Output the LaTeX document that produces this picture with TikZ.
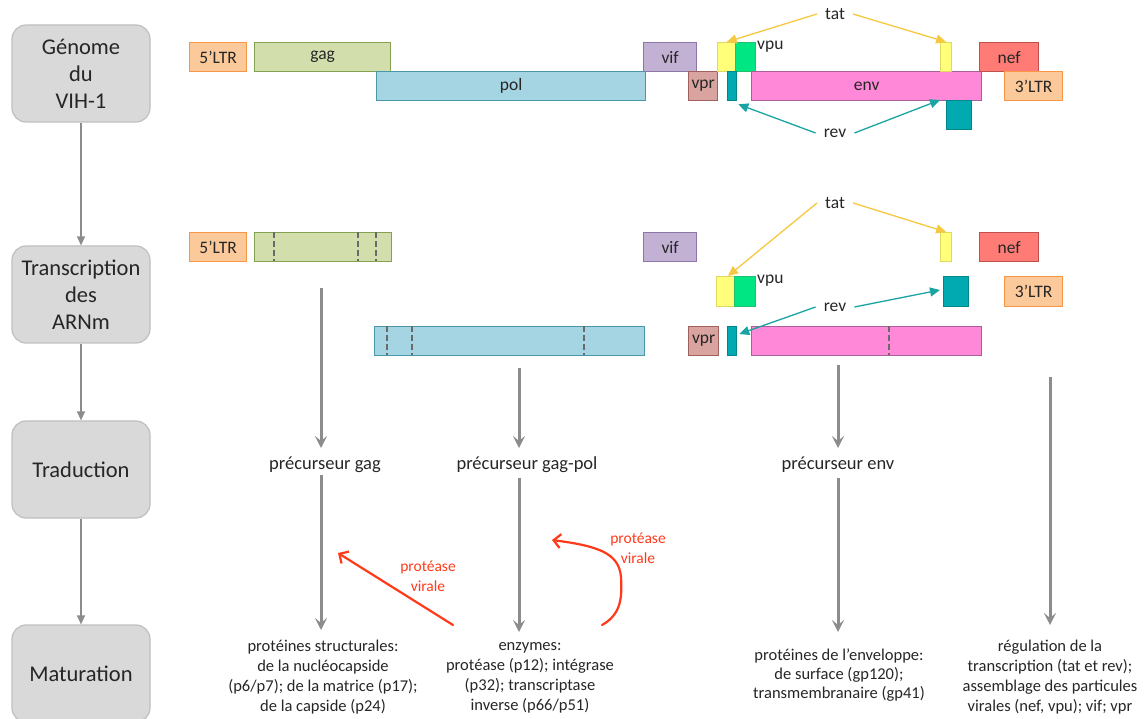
\documentclass[tikz,border=0pt]{standalone}
\usepackage{fontspec}
\setmainfont{Carlito}
\usetikzlibrary{arrows.meta}
\definecolor{stagefill}{HTML}{D9D9D9}
\definecolor{stageborder}{HTML}{BFBFBF}
\definecolor{ltrfill}{HTML}{FBC99A}
\definecolor{ltrdraw}{HTML}{F79646}
\definecolor{gagfill}{HTML}{D2DFAD}
\definecolor{gagdraw}{HTML}{86A052}
\definecolor{polfill}{HTML}{A5D5E2}
\definecolor{poldraw}{HTML}{4A97AA}
\definecolor{viffill}{HTML}{C3B1D4}
\definecolor{vifdraw}{HTML}{8C76A8}
\definecolor{vprfill}{HTML}{D9A3A0}
\definecolor{vprdraw}{HTML}{A0605E}
\definecolor{tatfill}{HTML}{FFFF7A}
\definecolor{tatdraw}{HTML}{E0D860}
\definecolor{vpufill}{HTML}{00E682}
\definecolor{vpudraw}{HTML}{20C070}
\definecolor{revfill}{HTML}{00AAB0}
\definecolor{revdraw}{HTML}{00878C}
\definecolor{envfill}{HTML}{FF88D8}
\definecolor{envdraw}{HTML}{A8609A}
\definecolor{neffill}{HTML}{FF7B75}
\definecolor{nefdraw}{HTML}{C0504D}
\definecolor{grayarrow}{HTML}{8C8C8C}
\definecolor{tatarrow}{HTML}{F5C840}
\definecolor{revarrow}{HTML}{1AA3A3}
\definecolor{redarrow}{HTML}{FF3A1A}
\definecolor{dashgray}{HTML}{6A6A6A}
\tikzset{
  stage/.style={draw=stageborder, fill=stagefill, rounded corners=14pt, line width=1.2pt,
    minimum width=138pt, minimum height=97pt, align=center, inner sep=0pt,
    font=\fontsize{22.5}{27}\selectfont, text=black!85},
  gene/.style={line width=1.3pt, inner sep=0pt, anchor=north west, font=\fontsize{17.5}{18}\selectfont, text=black!85},
  lbl/.style={font=\fontsize{17.5}{18}\selectfont, text=black!85, inner sep=2pt},
  plbl/.style={font=\fontsize{18.5}{19}\selectfont, text=black!85, inner sep=2pt},
  res/.style={font=\fontsize{16.5}{20}\selectfont, align=center, text=black!85, inner sep=0pt},
  redlbl/.style={font=\fontsize{15.5}{20}\selectfont, align=center, text=redarrow, inner sep=0pt},
  stagelink/.style={draw=grayarrow, line width=1.3pt, -{Triangle[length=9pt,width=8pt]}},
  bigarrow/.style={draw=grayarrow, line width=3pt, -{Stealth[length=12pt,width=12pt,inset=5pt]}},
  tatlink/.style={draw=tatarrow, line width=1.3pt, -{Triangle[length=10pt,width=9pt]}},
  revlink/.style={draw=revarrow, line width=1.3pt, -{Triangle[length=10pt,width=9pt]}},
  redlink/.style={draw=redarrow, line width=2.2pt, line cap=round, -{Straight Barb[length=7pt,width=14pt]}},
  dashline/.style={draw=dashgray, line width=2pt, dash pattern=on 6pt off 3pt},
}
\begin{document}
\begin{tikzpicture}[x=1pt,y=-1pt]
\useasboundingbox (0,0) rectangle (1144,719);

% ---- stages
\node[stage] (s1) at (81,73.5) {Génome\\du\\VIH-1};
\node[stage] (s2) at (81,294.5) {Transcription\\des\\ARNm};
\node[stage] (s3) at (81,469.5) {Traduction};
\node[stage] (s4) at (81,673.5) {Maturation};
\draw[stagelink] (s1) -- (s2);
\draw[stagelink] (s2) -- (s3);
\draw[stagelink] (s3) -- (s4);

% ---- genome row
\node[gene, fill=ltrfill, draw=ltrdraw, minimum width=57pt, minimum height=29pt] (gltr5) at (189,42) {5’LTR};
\node[gene, fill=gagfill, draw=gagdraw, minimum width=136pt, minimum height=29pt] (ggag) at (254,42) {gag};
\node[gene, fill=polfill, draw=poldraw, minimum width=269pt, minimum height=29pt] (gpol) at (376,71) {pol};
\node[gene, fill=viffill, draw=vifdraw, minimum width=53pt, minimum height=29pt] (gvif) at (643,42) {vif};
\node[gene, fill=vprfill, draw=vprdraw, minimum width=29pt, minimum height=29pt] (gvpr) at (688,71) {vpr};
\node[gene, fill=tatfill, draw=tatdraw, minimum width=18pt, minimum height=29pt] (gtatA) at (717,42) {};
\node[gene, fill=vpufill, draw=vpudraw, minimum width=20pt, minimum height=29pt] (gvpu) at (735,42) {};
\node[gene, fill=revfill, draw=revdraw, minimum width=9pt, minimum height=29pt] (grevA) at (727,71) {};
\node[gene, fill=envfill, draw=envdraw, minimum width=230pt, minimum height=29pt] (genv) at (751,71) {env};
\node[gene, fill=tatfill, draw=tatdraw, minimum width=11pt, minimum height=29pt] (gtatB) at (940,42) {};
\node[gene, fill=neffill, draw=nefdraw, minimum width=59pt, minimum height=29pt] (gnef) at (979,42) {nef};
\node[gene, fill=ltrfill, draw=ltrdraw, minimum width=58pt, minimum height=29pt] (gltr3) at (1004,71) {3’LTR};
\node[gene, fill=revfill, draw=revdraw, minimum width=25pt, minimum height=29pt] (grevB) at (946,100) {};
\node[lbl, anchor=west] (gvpulbl) at (755,47) {vpu};
\node[lbl] (gtat) at (835,14) {tat};
\node[lbl] (grev) at (835,133) {rev};
\draw[tatlink] ([xshift=-6pt]gtat.west) -- (gtatA.north);
\draw[tatlink] ([xshift=6pt]gtat.east) -- (gtatB.north);
\draw[revlink] ([xshift=-6pt]grev.west) -- ([xshift=1pt,yshift=-3pt]grevA.south east);
\draw[revlink] ([xshift=6pt]grev.east) -- ([xshift=-6pt]grevB.north west);

% ---- transcription row
\node[gene, fill=ltrfill, draw=ltrdraw, minimum width=57pt, minimum height=29pt] (tltr5) at (189,232) {5’LTR};
\node[gene, fill=gagfill, draw=gagdraw, minimum width=137pt, minimum height=29pt] (tgag) at (254,232) {};
\draw[dashline] (274,232) -- (274,261);
\draw[dashline] (358,232) -- (358,261);
\draw[dashline] (376,232) -- (376,261);
\node[gene, fill=polfill, draw=poldraw, minimum width=270pt, minimum height=29pt] (tpol) at (374,326) {};
\draw[dashline] (387,326) -- (387,355);
\draw[dashline] (412,326) -- (412,355);
\draw[dashline] (584,326) -- (584,355);
\node[gene, fill=viffill, draw=vifdraw, minimum width=53pt, minimum height=29pt] (tvif) at (643,232) {vif};
\node[gene, fill=tatfill, draw=tatdraw, minimum width=11pt, minimum height=29pt] (ttatB) at (940,232) {};
\node[gene, fill=neffill, draw=nefdraw, minimum width=59pt, minimum height=29pt] (tnef) at (979,232) {nef};
\node[gene, fill=tatfill, draw=tatdraw, minimum width=18pt, minimum height=30pt] (ttatA) at (716,276) {};
\node[gene, fill=vpufill, draw=vpudraw, minimum width=21pt, minimum height=30pt] (tvpu) at (734,276) {};
\node[lbl, anchor=west] (tvpulbl) at (755,281) {vpu};
\node[gene, fill=revfill, draw=revdraw, minimum width=25pt, minimum height=30pt] (trevB) at (943,276) {};
\node[gene, fill=ltrfill, draw=ltrdraw, minimum width=58pt, minimum height=30pt] (tltr3) at (1004,276) {3’LTR};
\node[gene, fill=vprfill, draw=vprdraw, minimum width=30pt, minimum height=29pt] (tvpr) at (688,326) {vpr};
\node[gene, fill=revfill, draw=revdraw, minimum width=9pt, minimum height=29pt] (trevA) at (727,326) {};
\node[gene, fill=envfill, draw=envdraw, minimum width=230pt, minimum height=29pt] (tenv) at (751,326) {};
\draw[dashline] (889,326) -- (889,355);
\node[lbl] (ttat) at (835,203) {tat};
\node[lbl] (trev) at (835,307) {rev};
\draw[tatlink] ([xshift=-6pt]ttat.west) -- ([xshift=12pt]ttatA.north west);
\draw[tatlink] ([xshift=6pt]ttat.east) -- (ttatB.north);
\draw[revlink] ([xshift=-6pt]trev.west) -- ([xshift=2pt,yshift=-8pt]trevA.north east);
\draw[revlink] ([xshift=6pt]trev.east) -- ([xshift=-3pt,yshift=-14pt]trevB.north west);

% ---- precursors
\node[plbl] (pgag) at (325,465) {précurseur gag};
\node[plbl] (pgagpol) at (527,465) {précurseur gag-pol};
\node[plbl] (penv) at (838,465) {précurseur env};
\coordinate (c1) at (321,288);
\coordinate (c2) at (519,368);
\coordinate (c3) at (838,365);
\coordinate (c4) at (1050,377);
\draw[bigarrow] (c1) -- (321,448);
\draw[bigarrow] (c2) -- (519,448);
\draw[bigarrow] (c3) -- (838,448);

% ---- results
\node[res] (rstruct) at (323,677.5) {protéines structurales:\\de la nucléocapside\\(p6/p7); de la matrice (p17);\\de la capside (p24)};
\node[res] (renz) at (530,677.5) {enzymes:\\protéase (p12); intégrase\\(p32); transcriptase\\inverse (p66/p51)};
\node[res, font=\fontsize{16.5}{19}\selectfont] (renv) at (839,675) {protéines de l’enveloppe:\\de surface (gp120);\\transmembranaire (gp41)};
\node[res] (rreg) at (1050,677.5) {régulation de la\\transcription (tat et rev);\\assemblage des particules\\virales (nef, vpu); vif; vpr};
\draw[bigarrow] ([xshift=-4pt]pgag.south) -- (321,630);
\draw[bigarrow] ([xshift=-8pt,yshift=-3pt]pgagpol.south) -- (519,632);
\draw[bigarrow] ([yshift=-3pt]penv.south) -- (838,632);
\draw[bigarrow] (c4) -- (1050,625);

% ---- protease
\coordinate (r1s) at (453,625);
\coordinate (r1e) at (338,553);
\draw[redlink] (r1s) -- (r1e);
\node[redlbl] (rl1) at (428,576) {protéase\\virale};
\coordinate (r2s) at (602,625);
\coordinate (r2e) at (552,540);
\draw[redlink] (r2s) .. controls (622,614) and (622,596) .. (621,577) .. controls (619,553) and (598,546) .. (r2e);
\node[redlbl] (rl2) at (638,548) {protéase\\virale};
\end{tikzpicture}
\end{document}
